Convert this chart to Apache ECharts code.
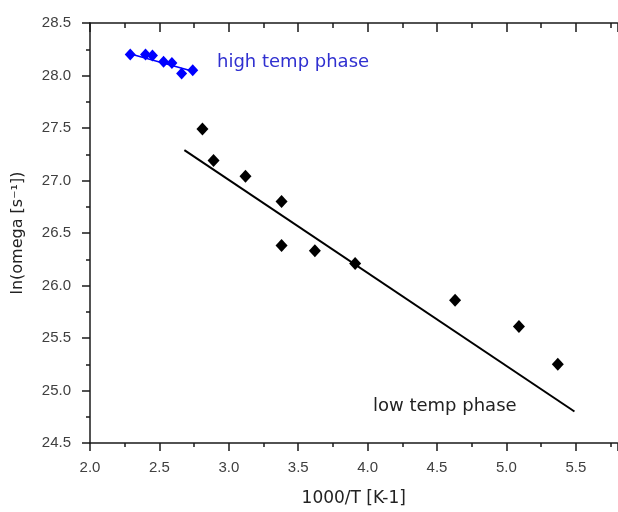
<!DOCTYPE html>
<html><head><meta charset="utf-8">
<script src="https://cdn.jsdelivr.net/npm/echarts@6/dist/echarts.min.js"></script>
<style>html,body{margin:0;padding:0;background:#fff}#c{width:618px;height:512px}</style>
</head><body><div id="c"></div>
<script>
const highX = [2.29, 2.40, 2.45, 2.53, 2.59, 2.66, 2.74];
const highY = [28.20, 28.20, 28.19, 28.13, 28.12, 28.02, 28.05];
const lowX = [2.81, 2.89, 3.12, 3.38, 3.38, 3.62, 3.91, 4.63, 5.09, 5.37];
const lowY = [27.49, 27.19, 27.04, 26.80, 26.38, 26.33, 26.21, 25.86, 25.61, 25.25];
const highFitX = [2.28, 2.74];
const highFitY = [28.21, 28.04];
const lowFitX = [2.68, 5.49];
const lowFitY = [27.29, 24.80];
const xTitle = '1000/T [K-1]';
const yTitle = 'ln(omega [s⁻¹])';
const highLabel = 'high temp phase';
const lowLabel = 'low temp phase';

const zip = (a, b) => a.map((v, i) => [v, b[i]]);
const axisColor = '#1a1a1a';
const labelStyle = {color: '#404040', fontFamily: '"Liberation Sans", Arial', fontSize: 15};

const chart = echarts.init(document.getElementById('c'), null, {renderer: 'canvas'});
chart.setOption({
  animation: false,
  backgroundColor: '#fff',
  grid: {left: 90, top: 23, bottom: 66, right: 0.5},
  xAxis: [{
    type: 'value', min: 2.0, max: 5.8, interval: 0.5, position: 'bottom',
    axisLine: {show: true, onZero: false, lineStyle: {color: axisColor, width: 1.5}},
    axisTick: {show: true, inside: false, length: 8, lineStyle: {color: axisColor, width: 1.5}},
    minorTick: {show: true, splitNumber: 2, length: 4, lineStyle: {color: axisColor, width: 1.5}},
    splitLine: {show: false},
    axisLabel: Object.assign({margin: 17, showMaxLabel: false, formatter: v => v.toFixed(1)}, labelStyle),
    name: xTitle, nameLocation: 'middle', nameGap: 47,
    nameTextStyle: {color: '#222', fontFamily: 'DejaVu Sans', fontSize: 17, verticalAlign: 'top'}
  }, {
    type: 'value', min: 2.0, max: 5.8, interval: 0.5, position: 'top',
    axisLine: {show: true, onZero: false, lineStyle: {color: axisColor, width: 1.5}},
    axisTick: {show: true, inside: true, length: 9, lineStyle: {color: axisColor, width: 1.5}},
    minorTick: {show: true, splitNumber: 2, length: 5, lineStyle: {color: axisColor, width: 1.5}},
    splitLine: {show: false},
    axisLabel: {show: false}
  }],
  yAxis: [{
    type: 'value', min: 24.5, max: 28.5, interval: 0.5,
    axisLine: {show: true, onZero: false, lineStyle: {color: axisColor, width: 1.5}},
    axisTick: {show: true, inside: false, length: 8, lineStyle: {color: axisColor, width: 1.5}},
    minorTick: {show: true, splitNumber: 2, length: 4, lineStyle: {color: axisColor, width: 1.5}},
    splitLine: {show: false},
    axisLabel: Object.assign({margin: 19, formatter: v => v.toFixed(1)}, labelStyle),
    name: yTitle, nameLocation: 'middle', nameGap: 64, nameRotate: 90,
    nameTextStyle: {color: '#222', fontFamily: 'DejaVu Sans', fontSize: 16}
  }],
  series: [
    {type: 'line', data: zip(lowFitX, lowFitY), symbol: 'none', lineStyle: {color: '#000', width: 2}, z: 2},
    {type: 'line', data: zip(highFitX, highFitY), symbol: 'none', lineStyle: {color: '#0000ff', width: 1.5}, z: 2},
    {type: 'scatter', data: zip(lowX, lowY), symbol: 'diamond', symbolSize: [12, 13], itemStyle: {color: '#000', opacity: 1}, z: 3},
    {type: 'scatter', data: zip(highX, highY), symbol: 'diamond', symbolSize: [11, 12], itemStyle: {color: '#0000ff', opacity: 1}, z: 3}
  ],
  graphic: [
    {type: 'text', left: 217, top: 53, style: {text: highLabel, fill: '#3030d0', font: '18px "DejaVu Sans"'}},
    {type: 'text', left: 373, top: 397, style: {text: lowLabel, fill: '#222', font: '18px "DejaVu Sans"'}}
  ]
});
</script></body></html>
